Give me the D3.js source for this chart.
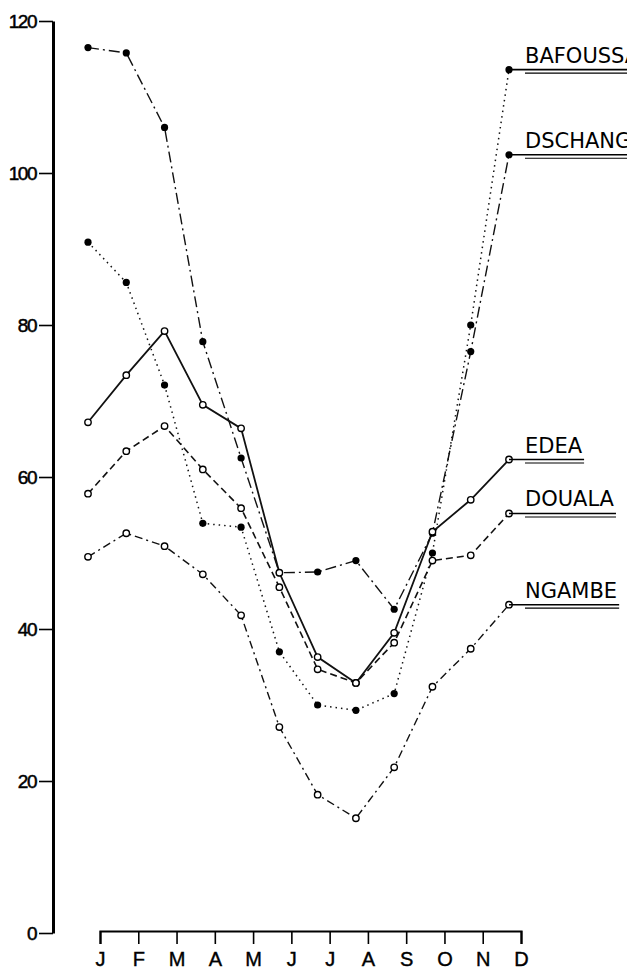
<!DOCTYPE html>
<html>
<head>
    <meta http-equiv="Content-Type" content="text/html;charset=utf-8">
    <style>
        body { margin: 0; background: #fff; }
        svg { display: block; }
    </style>
</head>

<body>
    <svg width="627" height="974"></svg>
    <script src="https://d3js.org/d3.v7.min.js"></script>
    <script>
        // month tick labels (index based, J/M/A repeat)
        var monthLabels = ["J", "F", "M", "A", "M", "J", "J", "A", "S", "O", "N", "D"];
        var yTicks = [0, 20, 40, 60, 80, 100, 120];

        // monthly values
        var bafoussam = [90.9, 85.6, 72.1, 53.9, 53.4, 37.0, 30.0, 29.3, 31.5, 50.0, 80.0, 113.6];
        var dschang = [116.5, 115.8, 106.0, 77.8, 62.5, 47.4, 47.5, 49.0, 42.6, 52.6, 76.5, 102.4];
        var edea = [67.2, 73.4, 79.2, 69.5, 66.4, 47.4, 36.3, 32.9, 39.5, 52.8, 57.0, 62.3];
        var douala = [57.8, 63.4, 66.7, 61.0, 55.9, 45.5, 34.7, 32.9, 38.2, 49.0, 49.7, 55.2];
        var ngambe = [49.5, 52.6, 50.9, 47.2, 41.8, 27.1, 18.2, 15.1, 21.8, 32.4, 37.4, 43.2];

        var stationNames = ["BAFOUSSAM", "DSCHANG", "EDEA", "DOUALA", "NGAMBE"];

        var svg = d3.select("svg");

        var x = d3.scalePoint().domain(d3.range(12)).range([88, 509]);
        var y = d3.scaleLinear().domain([0, 120]).range([933, 21]);

        // one entry per station
        var series = [
            { name: stationNames[0], values: bafoussam, dash: "1.5,4", width: 1.5, filled: true },
            { name: stationNames[1], values: dschang, dash: "11,4,2,4", width: 1.4, filled: true },
            { name: stationNames[2], values: edea, dash: null, width: 1.8, filled: false },
            { name: stationNames[3], values: douala, dash: "7,4", width: 1.6, filled: false },
            { name: stationNames[4], values: ngambe, dash: "8,4,2,4", width: 1.4, filled: false }
        ];

        // Y axis
        var yAxis = svg.append("g")
            .attr("transform", "translate(53,0)")
            .call(d3.axisLeft(y).tickValues(yTicks).tickSize(14).tickSizeOuter(0).tickPadding(3));
        yAxis.select(".domain").attr("stroke", "#000").attr("stroke-width", 3);
        yAxis.selectAll(".tick line").attr("stroke", "#000").attr("stroke-width", 1.6);
        yAxis.selectAll(".tick text")
            .style("font-family", "Liberation Sans")
            .style("font-size", "19px")
            .style("letter-spacing", "-1.5px")
            .style("stroke", "#000")
            .style("stroke-width", 0.5)
            .attr("fill", "#000");

        // X axis (drawn apart from the y axis, shifted like the original)
        var xAxis = svg.append("g")
            .attr("transform", "translate(12,931)")
            .call(d3.axisBottom(x).tickSize(13).tickSizeOuter(13).tickPadding(8)
                .tickFormat(function (d) { return monthLabels[d]; }));
        xAxis.select(".domain").attr("stroke", "#000").attr("stroke-width", 2.2);
        xAxis.selectAll(".tick line").attr("stroke", "#000").attr("stroke-width", 1.6);
        xAxis.selectAll(".tick text")
            .style("font-family", "Liberation Sans")
            .style("font-size", "20px")
            .style("stroke", "#000")
            .style("stroke-width", 0.4)
            .attr("fill", "#000");

        var line = d3.line()
            .x(function (d, i) { return x(i); })
            .y(function (d) { return y(d); });

        // lines
        series.forEach(function (s) {
            svg.append("path")
                .datum(s.values)
                .attr("d", line)
                .style("fill", "none")
                .style("stroke", "#111")
                .style("stroke-width", s.width)
                .style("stroke-dasharray", s.dash);
        });

        // markers
        series.forEach(function (s) {
            svg.append("g")
                .selectAll("circle")
                .data(s.values)
                .enter()
                .append("circle")
                .attr("cx", function (d, i) { return x(i); })
                .attr("cy", function (d) { return y(d); })
                .attr("r", s.filled ? 3.6 : 3.2)
                .style("fill", s.filled ? "#000" : "#fff")
                .style("stroke", "#000")
                .style("stroke-width", s.filled ? 0 : 1.4);
        });

        // station labels with double underline at the December end
        // (the two top names run past the right edge, as in the original)
        series.forEach(function (s) {
            var yd = y(s.values[11]);
            var xd = x(11);
            var tx = 525;
            var t = svg.append("text")
                .attr("x", tx)
                .attr("y", yd - 7)
                .style("font-family", "DejaVu Sans")
                .style("font-size", "21px")
                .attr("fill", "#000")
                .text(s.name);
            var tEnd = tx + t.node().getComputedTextLength() + 2;
            svg.append("line")
                .attr("x1", xd).attr("x2", tEnd)
                .attr("y1", yd).attr("y2", yd)
                .style("stroke", "#000").style("stroke-width", 1.6);
            svg.append("line")
                .attr("x1", tx).attr("x2", tEnd)
                .attr("y1", yd + 3.5).attr("y2", yd + 3.5)
                .style("stroke", "#000").style("stroke-width", 1.2);
        });
    </script>
</body>
</html>
